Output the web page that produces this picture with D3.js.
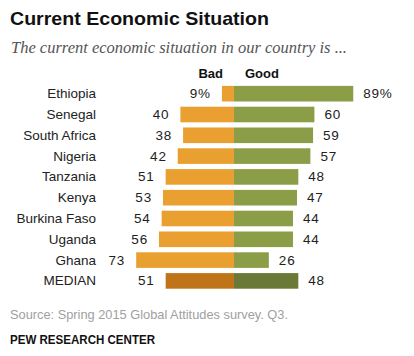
<!DOCTYPE html>
<html><head><meta charset="utf-8">
<script src="https://cdn.jsdelivr.net/npm/d3@7"></script>
<style>body{margin:0;background:#fff}svg{display:block}</style>
</head><body>
<script>
const countries = ["Ethiopia","Senegal","South Africa","Nigeria","Tanzania","Kenya","Burkina Faso","Uganda","Ghana","MEDIAN"];
const bad = [9,40,38,42,51,53,54,56,73,51];
const good = [89,60,59,57,48,47,44,44,26,48];
const badLabels = ["9%","40","38","42","51","53","54","56","73","51"];
const goodLabels = ["89%","60","59","57","48","47","44","44","26","48"];

const W=414,H=356;
const svg=d3.select("body").append("svg").attr("width",W).attr("height",H);
const font="'Liberation Sans', Arial, sans-serif";

svg.append("text").attr("x",10).attr("y",25).text("Current Economic Situation")
  .attr("font-family",font).attr("font-weight","bold").attr("font-size",19).attr("fill","#111")
  .attr("textLength",259).attr("lengthAdjust","spacingAndGlyphs");
svg.append("text").attr("x",11).attr("y",53).text("The current economic situation in our country is ...")
  .attr("font-family","'Liberation Serif', Georgia, serif").attr("font-style","italic").attr("font-size",16.5).attr("fill","#555")
  .attr("textLength",336).attr("lengthAdjust","spacingAndGlyphs");

const x0=234;
const xs=d3.scaleLinear().domain([0,100]).range([0,134]);
const y=d3.scaleBand().domain(countries).range([83.3,291.3]).paddingInner(0.25).paddingOuter(0.125);

svg.append("text").attr("x",x0-11).attr("y",78).attr("text-anchor","end").text("Bad")
  .attr("font-family",font).attr("font-weight","bold").attr("font-size",13).attr("fill","#111");
svg.append("text").attr("x",x0+11).attr("y",78).text("Good")
  .attr("font-family",font).attr("font-weight","bold").attr("font-size",13).attr("fill","#111");

const g=svg.append("g");
const rows=g.selectAll("g.row").data(countries).join("g").attr("class","row");
rows.append("rect").attr("x",(d,i)=>x0-xs(bad[i])).attr("y",d=>y(d)).attr("width",(d,i)=>xs(bad[i])).attr("height",y.bandwidth())
  .attr("fill",d=>d==="MEDIAN"?"#C07419":"#E9A030");
rows.append("rect").attr("x",x0).attr("y",d=>y(d)).attr("width",(d,i)=>xs(good[i])).attr("height",y.bandwidth())
  .attr("fill",d=>d==="MEDIAN"?"#6A7A36":"#8C9D47");
const ty=d=>y(d)+y.bandwidth()/2+4.5;
rows.append("text").attr("x",96).attr("y",ty).attr("text-anchor","end").text(d=>d)
  .attr("font-family",font).attr("font-size",13.5).attr("fill","#222");
rows.append("text").attr("x",(d,i)=>x0-xs(bad[i])-11).attr("y",ty).attr("text-anchor","end").text((d,i)=>badLabels[i])
  .attr("font-family",font).attr("font-size",13.5).attr("fill","#222").attr("letter-spacing",0.8);
rows.append("text").attr("x",(d,i)=>x0+xs(good[i])+10).attr("y",ty).text((d,i)=>goodLabels[i])
  .attr("font-family",font).attr("font-size",13.5).attr("fill","#222").attr("letter-spacing",0.8);

svg.append("text").attr("x",10).attr("y",319).text("Source: Spring 2015 Global Attitudes survey. Q3.")
  .attr("font-family",font).attr("font-size",13).attr("fill","#A0A0A0")
  .attr("textLength",278).attr("lengthAdjust","spacingAndGlyphs");
svg.append("text").attr("x",10).attr("y",344).text("PEW RESEARCH CENTER")
  .attr("font-family",font).attr("font-weight","bold").attr("font-size",12).attr("fill","#111")
  .attr("textLength",145).attr("lengthAdjust","spacingAndGlyphs");
</script>
</body></html>
